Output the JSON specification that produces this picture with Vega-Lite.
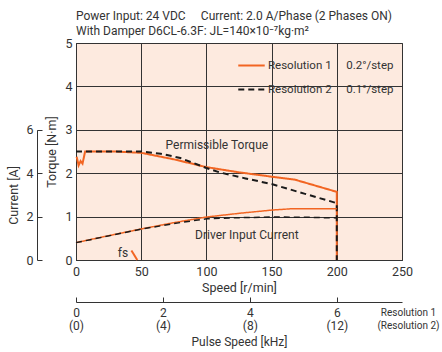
{
  "$schema": "https://vega.github.io/schema/vega-lite/v6.json",
  "width": 326,
  "height": 217,
  "autosize": {"type": "none"},
  "padding": {"left": 76, "top": 43, "right": 40, "bottom": 92},
  "background": "white",
  "title": {
    "text": "Power Input: 24 VDC\u2003 Current: 2.0 A/Phase (2 Phases ON)",
    "subtitle": "With Damper D6CL-6.3F: JL=140×10⁻⁷kg·m²",
    "anchor": "start",
    "frame": "group",
    "offset": -1,
    "fontSize": 12,
    "fontWeight": "normal",
    "subtitleFontSize": 12,
    "subtitlePadding": 3,
    "color": "#333",
    "subtitleColor": "#333",
    "font": "Roboto",
    "subtitleFont": "Roboto"
  },
  "config": {
    "font": "Roboto",
    "view": {"fill": "#FDEADF", "stroke": "#555", "strokeWidth": 1},
    "axis": {
      "labelFont": "Roboto",
      "titleFont": "Roboto",
      "labelFontSize": 12.5,
      "titleFontSize": 12.5,
      "labelColor": "#333",
      "titleColor": "#333",
      "titleFontWeight": "normal",
      "domainColor": "#333",
      "tickColor": "#333",
      "gridColor": "#333",
      "gridOpacity": 1,
      "gridWidth": 1
    }
  },
  "datasets": {
    "torque": [
      {"speed": 0.5, "torque": 2.38, "series": "Resolution 1\u2003 0.2°/step"},
      {"speed": 2, "torque": 2.18, "series": "Resolution 1\u2003 0.2°/step"},
      {"speed": 3.5, "torque": 2.28, "series": "Resolution 1\u2003 0.2°/step"},
      {"speed": 5, "torque": 2.22, "series": "Resolution 1\u2003 0.2°/step"},
      {"speed": 7, "torque": 2.5, "series": "Resolution 1\u2003 0.2°/step"},
      {"speed": 30, "torque": 2.5, "series": "Resolution 1\u2003 0.2°/step"},
      {"speed": 50, "torque": 2.47, "series": "Resolution 1\u2003 0.2°/step"},
      {"speed": 75, "torque": 2.32, "series": "Resolution 1\u2003 0.2°/step"},
      {"speed": 100, "torque": 2.14, "series": "Resolution 1\u2003 0.2°/step"},
      {"speed": 125, "torque": 2.02, "series": "Resolution 1\u2003 0.2°/step"},
      {"speed": 150, "torque": 1.92, "series": "Resolution 1\u2003 0.2°/step"},
      {"speed": 168, "torque": 1.85, "series": "Resolution 1\u2003 0.2°/step"},
      {"speed": 200, "torque": 1.57, "series": "Resolution 1\u2003 0.2°/step"},
      {"speed": 200, "torque": 0, "series": "Resolution 1\u2003 0.2°/step"},
      {"speed": 0, "torque": 2.5, "series": "Resolution 2\u2003 0.1°/step"},
      {"speed": 50, "torque": 2.5, "series": "Resolution 2\u2003 0.1°/step"},
      {"speed": 65, "torque": 2.45, "series": "Resolution 2\u2003 0.1°/step"},
      {"speed": 80, "torque": 2.35, "series": "Resolution 2\u2003 0.1°/step"},
      {"speed": 100, "torque": 2.12, "series": "Resolution 2\u2003 0.1°/step"},
      {"speed": 110, "torque": 2.02, "series": "Resolution 2\u2003 0.1°/step"},
      {"speed": 130, "torque": 1.88, "series": "Resolution 2\u2003 0.1°/step"},
      {"speed": 150, "torque": 1.75, "series": "Resolution 2\u2003 0.1°/step"},
      {"speed": 175, "torque": 1.53, "series": "Resolution 2\u2003 0.1°/step"},
      {"speed": 200, "torque": 1.31, "series": "Resolution 2\u2003 0.1°/step"},
      {"speed": 200, "torque": 0, "series": "Resolution 2\u2003 0.1°/step"}
    ],
    "current": [
      {"speed": 0, "amps": 0.8, "series": "Resolution 1\u2003 0.2°/step"},
      {"speed": 25, "amps": 1.12, "series": "Resolution 1\u2003 0.2°/step"},
      {"speed": 50, "amps": 1.43, "series": "Resolution 1\u2003 0.2°/step"},
      {"speed": 75, "amps": 1.72, "series": "Resolution 1\u2003 0.2°/step"},
      {"speed": 100, "amps": 1.98, "series": "Resolution 1\u2003 0.2°/step"},
      {"speed": 125, "amps": 2.15, "series": "Resolution 1\u2003 0.2°/step"},
      {"speed": 150, "amps": 2.3, "series": "Resolution 1\u2003 0.2°/step"},
      {"speed": 165, "amps": 2.36, "series": "Resolution 1\u2003 0.2°/step"},
      {"speed": 200, "amps": 2.36, "series": "Resolution 1\u2003 0.2°/step"},
      {"speed": 0, "amps": 0.8, "series": "Resolution 2\u2003 0.1°/step"},
      {"speed": 50, "amps": 1.42, "series": "Resolution 2\u2003 0.1°/step"},
      {"speed": 75, "amps": 1.68, "series": "Resolution 2\u2003 0.1°/step"},
      {"speed": 100, "amps": 1.9, "series": "Resolution 2\u2003 0.1°/step"},
      {"speed": 125, "amps": 1.95, "series": "Resolution 2\u2003 0.1°/step"},
      {"speed": 150, "amps": 1.98, "series": "Resolution 2\u2003 0.1°/step"},
      {"speed": 175, "amps": 1.97, "series": "Resolution 2\u2003 0.1°/step"},
      {"speed": 200, "amps": 1.94, "series": "Resolution 2\u2003 0.1°/step"}
    ],
    "fs": [
      {"speed": 42.5, "torque": 0.22},
      {"speed": 47, "torque": 0}
    ],
    "notes": [
      {"label": "Permissible Torque", "speed": 108, "torque": 2.65},
      {"label": "Driver Input Current", "speed": 131, "torque": 0.58},
      {"label": "fs", "speed": 36, "torque": 0.16}
    ],
    "pulse": [{"khz": 0}]
  },
  "layer": [
    {
      "data": {"name": "torque"},
      "mark": {"type": "line", "strokeWidth": 2},
      "encoding": {
        "x": {
          "field": "speed", "type": "quantitative",
          "scale": {"domain": [0, 250], "nice": false},
          "axis": {"title": "Speed [r/min]", "values": [0, 50, 100, 150, 200, 250], "tickSize": 0, "labelPadding": 5, "titlePadding": 4, "grid": true, "labelFlush": false}
        },
        "y": {
          "field": "torque", "type": "quantitative",
          "scale": {"domain": [0, 5], "nice": false},
          "axis": {"title": "Torque [N·m]", "values": [0, 1, 2, 3, 4, 5], "tickSize": 0, "labelPadding": 4, "titlePadding": 6, "grid": true}
        },
        "color": {
          "field": "series", "type": "nominal",
          "scale": {"range": ["#F26522", "#1a1a1a"]},
          "legend": {"orient": "top-right", "offset": 8, "title": null, "symbolType": "stroke", "symbolSize": 700, "symbolStrokeWidth": 2, "labelFontSize": 11.5, "labelFont": "Roboto", "labelColor": "#333", "rowPadding": 4, "padding": 0, "labelOffset": 2}
        },
        "strokeDash": {
          "field": "series", "type": "nominal",
          "scale": {"range": [[1, 0], [6, 4]]},
          "legend": {"orient": "top-right", "offset": 8, "title": null, "symbolType": "stroke", "symbolSize": 700, "symbolStrokeWidth": 2, "labelFontSize": 11.5, "labelFont": "Roboto", "labelColor": "#333", "rowPadding": 4, "padding": 0, "labelOffset": 2}
        }
      }
    },
    {
      "data": {"name": "current"},
      "mark": {"type": "line", "strokeWidth": 1.5},
      "encoding": {
        "x": {"field": "speed", "type": "quantitative", "scale": {"domain": [0, 250], "nice": false}, "axis": null},
        "y": {
          "field": "amps", "type": "quantitative",
          "scale": {"domain": [0, 6], "nice": false, "zero": true, "range": [{"expr": "height"}, {"expr": "height*0.4"}]},
          "axis": {"title": "Current [A]", "orient": "left", "offset": 39, "values": [0, 2, 4, 6], "tickSize": -5, "labelPadding": 9, "titlePadding": 5, "grid": false}
        },
        "color": {"field": "series", "type": "nominal",
          "legend": {"orient": "top-right", "offset": 8, "title": null, "symbolType": "stroke", "symbolSize": 700, "symbolStrokeWidth": 2, "labelFontSize": 11.5, "labelFont": "Roboto", "labelColor": "#333", "rowPadding": 4, "padding": 0, "labelOffset": 2}},
        "strokeDash": {"field": "series", "type": "nominal",
          "legend": {"orient": "top-right", "offset": 8, "title": null, "symbolType": "stroke", "symbolSize": 700, "symbolStrokeWidth": 2, "labelFontSize": 11.5, "labelFont": "Roboto", "labelColor": "#333", "rowPadding": 4, "padding": 0, "labelOffset": 2}}
      }
    },
    {
      "data": {"name": "fs"},
      "mark": {"type": "line", "strokeWidth": 2, "color": "#F26522"},
      "encoding": {
        "x": {"field": "speed", "type": "quantitative", "scale": {"domain": [0, 250], "nice": false}, "axis": null},
        "y": {"field": "torque", "type": "quantitative", "scale": {"domain": [0, 5], "nice": false}, "axis": null}
      }
    },
    {
      "data": {"name": "notes"},
      "mark": {"type": "text", "fontSize": 12, "color": "#333", "font": "Roboto"},
      "encoding": {
        "x": {"field": "speed", "type": "quantitative", "scale": {"domain": [0, 250], "nice": false}, "axis": null},
        "y": {"field": "torque", "type": "quantitative", "scale": {"domain": [0, 5], "nice": false}, "axis": null},
        "text": {"field": "label"}
      }
    },
    {
      "data": {"name": "pulse"},
      "mark": {"type": "rule", "opacity": 0},
      "encoding": {
        "x": {
          "field": "khz", "type": "quantitative",
          "scale": {"domain": [0, 7.5], "nice": false},
          "axis": {
            "title": "Pulse Speed [kHz]",
            "orient": "bottom",
            "offset": 42,
            "values": [0, 2, 4, 6],
            "tickSize": -5,
            "labelPadding": 10,
            "titlePadding": 5,
            "titleFontSize": 12,
            "grid": false,
            "labelOverlap": false,
            "labelFlush": false,
            "labelFontSize": 12,
            "labelLineHeight": 13.5,
            "labelExpr": "[format(datum.value, 'd'), '(' + format(datum.value * 2, 'd') + ')']"
          }
        }
      }
    },
    {
      "data": {"name": "pulse"},
      "mark": {"type": "rule", "opacity": 0},
      "encoding": {
        "x": {
          "field": "khz", "type": "quantitative",
          "scale": {"domain": [0, 7.5], "nice": false},
          "axis": {
            "title": ["Resolution 1", "(Resolution 2)"],
            "orient": "bottom",
            "offset": 42,
            "labels": false,
            "ticks": false,
            "domain": false,
            "grid": false,
            "titleFontSize": 10,
            "titleLineHeight": 13.5,
            "titleAlign": "center",
            "titleBaseline": "top",
            "titleX": 332,
            "titleY": 5
          }
        }
      }
    }
  ],
  "resolve": {
    "scale": {"x": "independent", "y": "independent"},
    "axis": {"x": "independent", "y": "independent"}
  }
}
